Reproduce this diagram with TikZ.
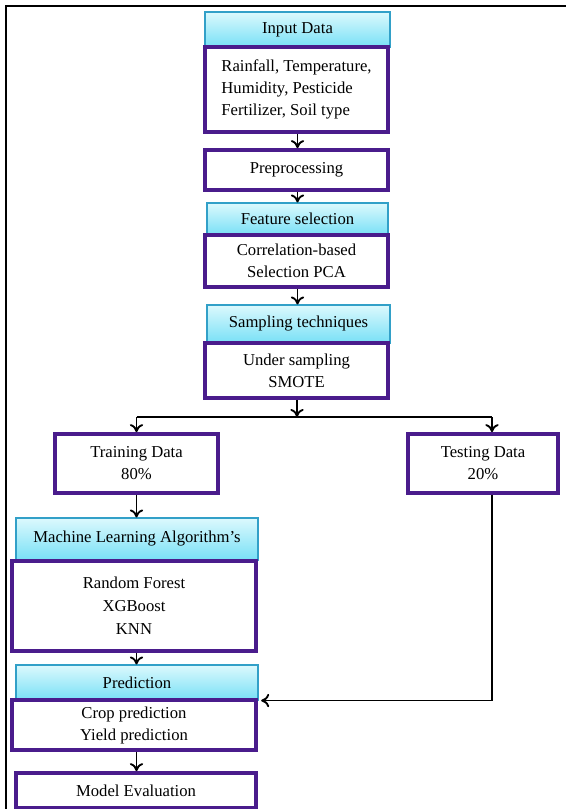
\documentclass[tikz,border=0pt]{standalone}
\usepackage{fontspec}
\setmainfont{Liberation Serif}
\usetikzlibrary{arrows.meta}

\definecolor{hdrtop}{RGB}{220,249,253}
\definecolor{hdrbot}{RGB}{120,224,246}
\definecolor{hdrline}{RGB}{50,160,200}
\definecolor{boxline}{RGB}{74,28,140}

\tikzset{
  hdr/.style={rectangle, draw=hdrline, line width=0.8pt, top color=hdrtop, bottom color=hdrbot,
    inner sep=0pt, font=\fontsize{12.5}{15.5}\selectfont},
  bodybox/.style={rectangle, draw=boxline, line width=2.8pt, fill=white, align=center,
    inner sep=0pt, font=\fontsize{12.5}{16.5}\selectfont},
  link/.style={->, line width=1.4pt}
}

\begin{document}
\begin{tikzpicture}[x=0.75pt, y=-0.75pt, >={To[length=6pt,width=10pt]}]

\useasboundingbox (0,0) rectangle (566,809);

% Frame
\draw[line width=1.5pt] (6,809) -- (6,6) -- (566,6);

% Input data
\node[hdr, minimum width=138.75pt, minimum height=26.25pt] (inhdr) at (297.5,29.5) {Input Data};
\node[bodybox, align=left, minimum width=137.25pt, minimum height=63.75pt] (inbody) at (296.5,89.5)
  {Rainfall, Temperature,\\Humidity, Pesticide\\Fertilizer, Soil type};

% Preprocessing
\node[bodybox, minimum width=137.25pt, minimum height=30pt] (prep) at (296.5,170) {Preprocessing};

% Feature selection
\node[hdr, minimum width=135.75pt, minimum height=24pt] (feathdr) at (297.5,219) {Feature selection};
\node[bodybox, minimum width=137.25pt, minimum height=39pt] (featbody) at (296.5,261)
  {Correlation-based\\Selection PCA};

% Sampling techniques
\node[hdr, minimum width=137.25pt, minimum height=28.5pt] (samphdr) at (298.5,324) {Sampling techniques};
\node[bodybox, minimum width=137.25pt, minimum height=41.25pt] (sampbody) at (296.5,370.5)
  {Under sampling\\SMOTE};

% Split
\coordinate (split) at (297,417);
\coordinate (lft) at (136.5,417);
\coordinate (rgt) at (492,417);

\node[bodybox, minimum width=122.25pt, minimum height=44.25pt] (train) at (136.5,463.5) {Training Data\\80\%};
\node[bodybox, minimum width=112.5pt, minimum height=44.25pt] (test) at (483,463.5) {Testing Data\\20\%};

% Machine learning
\node[hdr, minimum width=181.5pt, minimum height=31.5pt] (mlhdr) at (137,539) {Machine Learning Algorithm's};
\node[bodybox, minimum width=183pt, minimum height=67.5pt, font=\fontsize{12.5}{17.25}\selectfont] (mlbody) at (134,606)
  {Random Forest\\XGBoost\\KNN};

% Prediction
\node[hdr, minimum width=181.5pt, minimum height=26.25pt] (predhdr) at (137,682.5) {Prediction};
\node[bodybox, minimum width=183pt, minimum height=37.5pt] (predbody) at (134,725)
  {Crop prediction\\Yield prediction};

% Evaluation
\node[bodybox, minimum width=180pt, minimum height=26.25pt] (eval) at (136,790.5) {Model Evaluation};

% Arrows
\draw[link] (inbody.south -| inhdr.south) -- (prep.north -| inhdr.south);
\draw[link] (prep.south -| inhdr.south) -- (feathdr.north -| inhdr.south);
\draw[link] (featbody.south -| inhdr.south) -- (samphdr.north -| inhdr.south);
\draw[link] (sampbody.south -| split) -- (split);
\draw[line width=1.4pt] (lft) -- (rgt);
\draw[link] (lft) -- (train.north);
\draw[link] (rgt) -- (rgt |- test.north);
\draw[link] (train.south) -- (train.south |- mlhdr.north);
\draw[link] (mlbody.south -| train.south) -- (train.south |- predhdr.north);
\draw[link] (predbody.south -| train.south) -- (train.south |- eval.north);
\draw[link] (rgt |- test.south) -- (rgt |- predhdr.south) -- ([xshift=2pt]predhdr.south east);

\end{tikzpicture}
\end{document}
